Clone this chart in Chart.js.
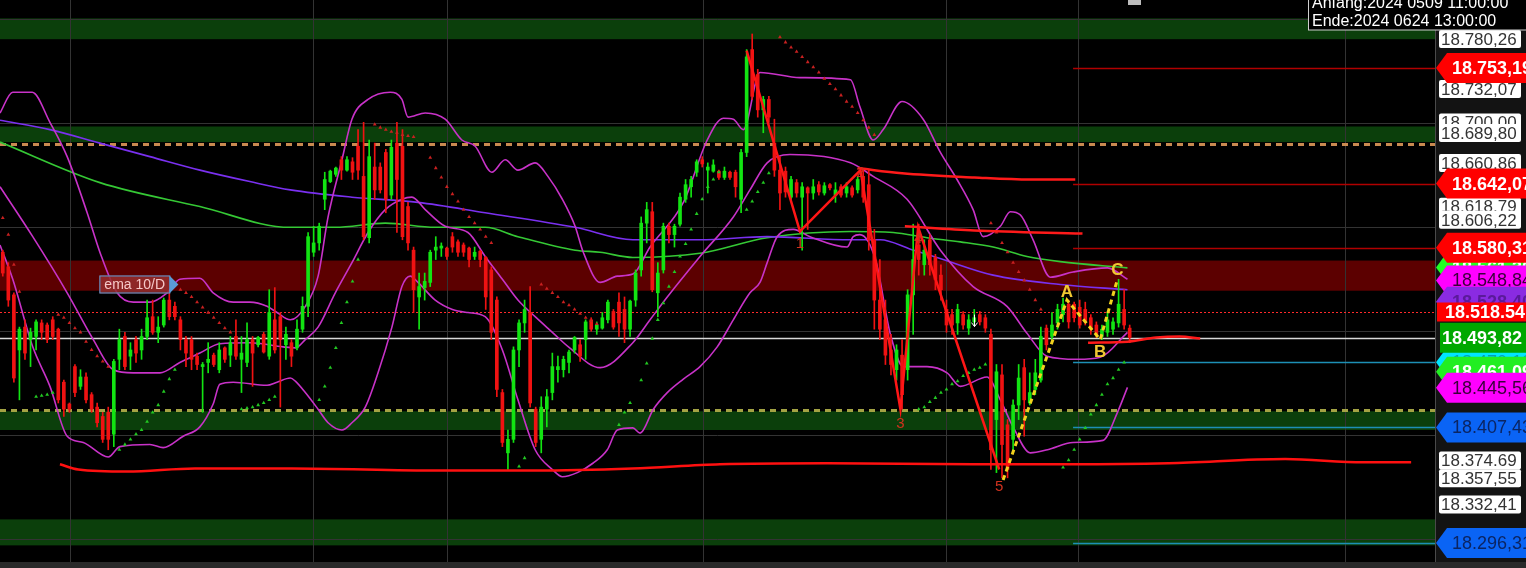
<!DOCTYPE html>
<html>
<head>
<meta charset="utf-8">
<script src="https://cdn.jsdelivr.net/npm/chart.js@4.4.1/dist/chart.umd.min.js"></script>
<style>
  html, body { margin: 0; padding: 0; background: #000; overflow: hidden; }
  canvas { display: block; }
</style>
</head>
<body>
<canvas id="chart" width="1526" height="568"></canvas>
<script>
// hourly candles: open, high, low, close
const ohlc = [
  [18576,18578,18553,18556],[18562,18566,18524,18530],[18535,18537,18451,18455],[18482,18504,18434,18502],
  [18504,18511,18473,18479],[18492,18503,18466,18499],[18495,18511,18482,18509],[18508,18511,18492,18499],
  [18506,18508,18489,18492],[18511,18514,18492,18495],[18502,18503,18431,18434],[18451,18453,18418,18425],
  [18430,18431,18422,18425],[18466,18468,18437,18441],[18447,18463,18444,18456],[18456,18460,18431,18434],
  [18439,18441,18422,18425],[18427,18431,18408,18412],[18418,18422,18393,18396],[18422,18427,18386,18396],
  [18401,18473,18389,18471],[18473,18502,18463,18492],[18495,18499,18463,18466],[18476,18489,18463,18482],
  [18492,18495,18470,18479],[18482,18502,18473,18495],[18495,18530,18492,18513],[18514,18530,18497,18499],
  [18499,18514,18489,18504],[18506,18532,18504,18530],[18530,18537,18511,18514],[18524,18528,18511,18514],
  [18511,18514,18482,18492],[18492,18495,18466,18479],[18492,18495,18463,18473],[18476,18479,18463,18468],
  [18466,18470,18422,18468],[18470,18489,18460,18473],[18477,18479,18466,18468],[18463,18489,18460,18482],
  [18484,18485,18470,18473],[18477,18495,18466,18489],[18495,18511,18473,18476],[18473,18495,18441,18479],
  [18470,18508,18466,18492],[18492,18495,18447,18479],[18487,18495,18485,18494],[18497,18499,18479,18480],
  [18476,18540,18473,18518],[18511,18542,18479,18482],[18514,18518,18427,18492],[18487,18504,18473,18497],
  [18489,18492,18466,18476],[18484,18511,18482,18502],[18502,18533,18499,18524],[18524,18595,18514,18591],
  [18576,18601,18572,18585],[18585,18604,18578,18601],[18627,18653,18617,18646],[18644,18655,18643,18654],
  [18651,18658,18649,18657],[18665,18668,18646,18655],[18655,18668,18654,18665],[18663,18667,18646,18653],
  [18678,18694,18646,18655],[18649,18701,18588,18591],[18590,18684,18585,18668],[18658,18681,18627,18636],
  [18658,18662,18633,18636],[18672,18675,18614,18627],[18631,18684,18627,18677],[18681,18701,18595,18646],
  [18678,18694,18588,18591],[18620,18624,18578,18585],[18578,18581,18518,18540],[18533,18556,18502,18543],
  [18542,18556,18530,18548],[18547,18578,18543,18576],[18578,18591,18569,18581],[18580,18585,18572,18582],
  [18580,18581,18569,18572],[18591,18595,18576,18581],[18586,18588,18572,18576],[18583,18585,18572,18576],
  [18580,18581,18562,18569],[18572,18581,18569,18576],[18577,18578,18562,18569],[18571,18572,18521,18533],
  [18559,18562,18492,18499],[18530,18533,18437,18444],[18441,18444,18389,18393],[18383,18405,18367,18396],
  [18396,18485,18393,18482],[18482,18511,18466,18508],[18508,18530,18499,18521],[18518,18543,18427,18431],
  [18425,18427,18389,18393],[18396,18437,18383,18427],[18425,18444,18408,18437],[18441,18479,18434,18466],
  [18463,18476,18451,18466],[18463,18476,18456,18473],[18470,18482,18460,18480],[18482,18495,18479,18494],
  [18487,18492,18471,18476],[18492,18511,18473,18509],[18511,18513,18500,18502],[18502,18509,18497,18506],
  [18503,18518,18502,18513],[18511,18530,18508,18528],[18519,18521,18502,18504],[18528,18537,18495,18508],
  [18521,18533,18489,18502],[18502,18530,18495,18529],[18530,18559,18524,18556],[18559,18610,18553,18604],
  [18604,18624,18585,18617],[18615,18624,18538,18540],[18537,18566,18514,18556],[18559,18604,18556,18601],
  [18601,18604,18585,18593],[18593,18603,18581,18601],[18603,18633,18601,18629],[18627,18646,18624,18641],
  [18639,18649,18629,18646],[18653,18665,18649,18663],[18665,18668,18658,18661],[18655,18662,18633,18658],
  [18654,18665,18653,18660],[18654,18655,18646,18648],[18648,18658,18646,18654],[18653,18654,18646,18648],
  [18653,18655,18629,18639],[18627,18675,18614,18672],[18672,18771,18668,18764],[18771,18786,18723,18726],
  [18747,18752,18706,18713],[18713,18726,18691,18723],[18723,18726,18701,18706],[18681,18704,18649,18655],
  [18655,18668,18617,18633],[18654,18658,18629,18634],[18629,18649,18627,18646],[18643,18646,18629,18633],
  [18629,18643,18578,18639],[18638,18639,18598,18633],[18633,18646,18627,18639],[18641,18644,18631,18634],
  [18633,18643,18631,18640],[18641,18642,18636,18638],[18631,18643,18624,18636],[18639,18641,18629,18631],
  [18633,18643,18629,18639],[18638,18640,18629,18631],[18636,18649,18633,18646],[18649,18655,18624,18629],
  [18641,18655,18578,18588],[18588,18598,18502,18530],[18530,18569,18492,18502],[18511,18530,18468,18477],
  [18482,18497,18458,18468],[18463,18487,18453,18482],[18477,18492,18425,18439],[18463,18540,18453,18535],
  [18535,18603,18497,18569],[18583,18603,18554,18569],[18564,18588,18554,18578],[18588,18593,18554,18564],
  [18571,18574,18540,18550],[18554,18564,18530,18540],[18521,18530,18499,18506],[18516,18521,18497,18506],
  [18508,18526,18497,18521],[18516,18519,18502,18506],[18503,18516,18497,18511],[18509,18521,18506,18513],
  [18516,18519,18506,18509],[18513,18516,18499,18503],[18497,18502,18367,18386],[18415,18468,18364,18461],
  [18458,18468,18359,18391],[18410,18415,18359,18367],[18396,18434,18386,18429],[18429,18468,18415,18455],
  [18465,18473,18399,18434],[18431,18460,18429,18441],[18444,18473,18439,18460],[18453,18504,18451,18495],
  [18503,18506,18482,18487],[18495,18518,18492,18506],[18508,18526,18502,18521],[18516,18532,18509,18526],
  [18526,18530,18503,18509],[18526,18528,18509,18513],[18523,18530,18503,18506],[18521,18528,18506,18509],
  [18513,18516,18497,18502],[18506,18509,18494,18497],[18495,18506,18492,18502],[18499,18518,18495,18511],
  [18502,18513,18497,18509],[18508,18550,18504,18526],[18521,18540,18502,18506],[18503,18506,18489,18494]
];

// session breaks (bar index) and price grid
const dayBreaks = [12.1, 55.9, 80, 126.2, 170, 193.7, 241.8];
const priceGrid = [18300, 18400, 18500, 18600, 18700, 18800];

// bollinger bands [bar, price]
const bbUpper = [[-0.5,18710],[1.8,18730],[5.3,18730],[8.5,18701],[11.6,18668],[15.2,18614],[17.5,18576],[20.6,18537],
  [23.5,18528],[26.5,18528],[29.6,18537],[31.9,18550],[35.5,18551],[37.9,18537],[41.5,18528],[44.5,18528],[47.6,18524],
  [49.4,18518],[51.8,18511],[54.5,18524],[56.8,18553],[58.6,18610],[61.1,18665],[62.9,18704],[65.8,18723],[69.8,18730],
  [71.9,18723],[73,18706],[76.1,18710],[79.7,18704],[82.7,18684],[85.1,18678],[88.1,18653],[90.5,18665],[92.8,18655],
  [95.9,18662],[98.2,18649],[100.8,18627],[103.1,18601],[104.5,18577],[107.6,18547],[110.7,18553],[113.5,18555],
  [116.6,18581],[122.6,18624],[126.9,18684],[129.8,18705],[131.6,18704],[133.4,18694],[136.4,18749],[143.6,18744],
  [152.7,18742],[154.4,18716],[156.8,18684],[158.6,18694],[162,18721],[165.8,18704],[168.9,18672],[171.9,18646],
  [174.8,18617],[176.6,18591],[179.7,18601],[181.5,18615],[183.3,18612],[185.6,18588],[188.7,18552],[192.8,18557],
  [199,18561],[202.6,18550]];
const bbMiddle = [[-0.5,18639],[5.4,18591],[11.6,18537],[16.3,18492],[19.9,18463],[23.5,18460],[28.3,18460],[31.9,18470],
  [35.5,18479],[39.1,18488],[44.5,18489],[50.5,18485],[52.7,18484],[54.5,18492],[56.8,18504],[59.9,18537],[62.9,18566],
  [65.8,18595],[68.9,18617],[71.9,18627],[73.7,18629],[76.1,18617],[79.7,18601],[83.8,18595],[86.9,18572],[90,18550],
  [92.8,18530],[95.9,18514],[99,18499],[101.9,18485],[107.6,18465],[113.5,18489],[116.6,18511],[119.7,18533],
  [125.6,18572],[131.6,18610],[134.6,18636],[137.7,18662],[141.8,18670],[152.7,18662],[156.8,18649],[162.9,18627],
  [168.9,18578],[174.8,18543],[180.9,18524],[184.5,18498],[188.1,18476],[193.6,18473],[197.7,18475],[202.6,18499]];
const bbLower = [[-0.5,18583],[1.8,18550],[5.4,18485],[8.5,18447],[11.6,18399],[14.5,18393],[19,18379],[21.1,18389],
  [26.5,18391],[28.9,18388],[32.5,18399],[35.5,18408],[37.9,18430],[39.1,18449],[41.5,18451],[47.6,18448],[49.4,18451],
  [51.8,18455],[52.7,18452],[54.5,18441],[56.8,18425],[58.6,18412],[61.1,18405],[62.9,18412],[65.3,18427],[67.6,18460],
  [70.1,18504],[71.9,18543],[73.4,18553],[74.8,18547],[77.9,18530],[81,18521],[83.8,18518],[86.9,18514],[90,18482],
  [92.8,18434],[95.9,18386],[99,18367],[100.8,18360],[103.5,18364],[106.3,18373],[108.9,18386],[110.7,18405],
  [113.5,18407],[114.8,18402],[117.2,18425],[119.7,18441],[122.6,18454],[125.6,18466],[128.7,18485],[131.6,18511],
  [134.6,18537],[136.4,18547],[137.7,18566],[139.5,18591],[142.4,18598],[145.4,18591],[152.1,18581],[153.2,18591],
  [154.4,18593],[157.2,18569],[159.9,18497],[162.2,18466],[166.5,18466],[170.1,18460],[172.5,18447],[177.3,18456],
  [179.7,18434],[182,18408],[185.1,18383],[188.2,18386],[192.8,18393],[198.2,18395],[200.8,18422],[202.6,18446]];

// moving averages [bar, price]
const emaSlow = [[-0.5,18703],[8.5,18694],[17.5,18681],[26.5,18668],[35.5,18655],[44.5,18644],[51.8,18636],[62.9,18629],
  [74.8,18624],[86.9,18614],[103.1,18600],[113.5,18588],[125.6,18588],[137.7,18591],[152.7,18588],[158.1,18588],
  [163.5,18579],[169.4,18569],[178.4,18554],[190.5,18545],[202.6,18540]];
const smaSlow = [[-0.5,18682],[17.5,18643],[35.5,18620],[51.8,18600],[59.9,18600],[68.9,18604],[77.9,18600],[86.9,18600],
  [92.8,18591],[103.1,18578],[107.6,18576],[113.5,18571],[125.6,18575],[137.7,18590],[152.7,18596],[160.4,18595],
  [166.5,18590],[172.5,18586],[178.4,18581],[184.5,18572],[190.5,18567],[202.6,18561]];
const baseLine = [[10.3,18372],[13.6,18367],[22.4,18365],[34.6,18368],[52.1,18368],[78.4,18366],[95.9,18366],
  [113.5,18368],[129.2,18372],[148.5,18373],[174.8,18372],[192.5,18372],[210,18373],[231,18377],[245.1,18374],[253.7,18374]];

// parabolic SAR [bar, price]
const sarBelow = [[6,18437],[7,18438],[8,18439],[9,18441],[21,18386],[22,18391],[23,18396],[24,18401],[25,18405],
  [26,18413],[27,18422],[28,18429],[29,18442],[30,18454],[31,18463],[43,18425],[44,18426],[45,18427],[46,18429],
  [47,18431],[48,18434],[49,18437],[57,18434],[58,18447],[59,18465],[60,18484],[61,18508],[62,18528],[63,18548],
  [64,18569],[93,18370],[94,18378],[111,18410],[112,18422],[113,18431],[115,18453],[116,18469],[117,18493],[118,18511],
  [119,18527],[120,18543],[121,18557],[122,18572],[123,18584],[124,18598],[125,18613],[126,18627],[127,18639],
  [128,18646],[129,18653],[134,18617],[135,18625],[136,18634],[137,18643],[138,18652],[165,18425],[166,18427],
  [167,18432],[168,18436],[169,18441],[170,18444],[171,18449],[172,18452],[173,18457],[174,18460],[175,18463],
  [176,18465],[177,18468],[191,18369],[192,18376],[193,18386],[194,18396],[195,18407],[196,18420],[197,18429],
  [198,18439],[199,18449],[200,18455],[201,18463],[202,18470]];
const sarAbove = [[0,18609],[1,18593],[2,18564],[3,18538],[10,18516],[11,18513],[12,18508],[13,18503],[14,18499],
  [15,18490],[16,18482],[17,18476],[18,18471],[19,18466],[32,18540],[33,18537],[34,18533],[35,18528],[36,18523],
  [37,18518],[38,18513],[39,18508],[40,18503],[41,18499],[67,18699],[68,18696],[69,18694],[70,18692],[71,18691],
  [72,18689],[73,18688],[74,18687],[77,18667],[78,18657],[79,18648],[80,18639],[81,18632],[82,18625],[83,18617],
  [84,18610],[85,18604],[86,18598],[87,18591],[88,18585],[97,18545],[98,18541],[99,18537],[100,18533],[101,18528],
  [102,18525],[103,18521],[104,18517],[105,18513],[106,18510],[107,18507],[140,18783],[141,18778],[142,18773],
  [143,18769],[144,18764],[145,18759],[146,18754],[147,18749],[148,18743],[149,18738],[150,18733],[151,18727],
  [152,18721],[153,18716],[154,18710],[155,18703],[156,18696],[157,18689],[178,18604],[179,18595],[180,18585],
  [181,18576],[182,18566],[183,18557],[184,18549],[185,18540],[186,18530],[187,18521]];

// elliott count 0-1-2-3-4-5 and correction A-B-C
const waveX = [134, 143.6, 154.5, 161.7, 164.9, 179.5];
const waveY = [18770, 18596, 18655, 18425, 18600, 18367];
const waveNames = ['', '1', '2', '3', '4', '5'];
const abcX = [180.2, 191.7, 197.7, 200.8];
const abcY = [18357, 18530, 18492, 18550];
const abcNames = ['', 'A', 'B', 'C'];
const wave2Line = [[154,18657],[162,18652],[175,18648],[185,18646],[193.2,18646]];
const wave4Line = [[162.5,18601],[175,18597],[194.5,18594]];
const bLine = [[195.5,18489],[202.6,18490],[207.8,18494],[212,18495],[215.7,18493]];

// zones and levels
const greenZones = [[18781, 18801], [18682, 18697], [18405, 18423], [18294, 18319]];
const redZones = [[18539, 18568]];
const orangeDash = 18680;
const oliveDash = 18424;
const prevClose = 18518.54;
const lastPrice = 18493.82;
const rightRedLevels = [18753.19, 18642.07, 18580.31];
const rightTealLevels = [18470.1, 18407.43, 18296.31];
const rightLevelStart = 192.8;

// price axis boxes and tags (drawn in this order)
const boxLabels = ['18.700,00', '18.780,26', '18.732,07', '18.689,80', '18.660,86', '18.618,79', '18.606,22',
  '18.374.69', '18.357,55', '18.332,41'];
const boxPrices = [18700, 18780.26, 18732.07, 18689.80, 18660.86, 18618.79, 18606.22, 18374.69, 18357.55, 18332.41];
const tagLabels = ['18.561,30', '18.753,19', '18.642,07', '18.580,31', '18.548,84', '18.528,40', '18.518.54',
  '18.470,10', '18.461,09', '18.493,82', '18.445,56', '18.407,43', '18.296,31'];
const tagPrices = [18561.3, 18753.19, 18642.07, 18580.31, 18548.84, 18528.4, 18518.54,
  18470.1, 18461.09, 18493.82, 18445.56, 18407.43, 18296.31];
const tagFills = ['#22ff22', '#ff0000', '#ff0000', '#ff0000', '#ff00ff', '#8a2be2', '#ff0000',
  '#00e5ff', '#22ee22', '#00a800', '#ff00ff', '#0a64f5', '#0a64f5'];
const tagInk = ['#fff', '#fff', '#fff', '#fff', '#3a003a', '#5a1a9a', '#fff',
  '#00a0b8', '#fff', '#fff', '#3a003a', '#0b2563', '#0b2563'];
const tagShape = ['arrow', 'arrow', 'arrow', 'arrow', 'arrow', 'arrow', 'rect',
  'arrow', 'arrow', 'wide', 'arrow', 'arrow', 'arrow'];
const tagBold = [true, true, true, true, false, true, true, false, true, true, false, false, false];

const emaTagAt = [17.4, 18545];
const infoLines = ['Anfang:2024 0509 11:00:00', 'Ende:2024 0624 13:00:00'];

const FONT = '"Liberation Sans", Arial, sans-serif';
const toXY = arr => arr.map(([x, y]) => ({ x, y }));
const zip = (xs, ys) => xs.map((x, i) => ({ x, y: ys[i] }));

const candleColors = ohlc.map(r => r[3] >= r[0] ? '#12e412' : '#f01212');
const bodies = ohlc.map((r, i) => ({ x: i, y: [r[0], r[3]] }));
const wicks = ohlc.map((r, i) => ({ x: i, y: [r[2], r[1]] }));

function line(data, color, width, order, extra) {
  return Object.assign({
    type: 'line', data: data, borderColor: color, borderWidth: width,
    pointRadius: 0, cubicInterpolationMode: 'monotone', fill: false, order
  }, extra || {});
}

const levelsPlugin = {
  id: 'levels',
  beforeDraw(chart) {
    const { ctx, chartArea: a, scales: { x, y } } = chart;
    ctx.save();
    ctx.fillStyle = '#000';
    ctx.fillRect(0, 0, chart.width, chart.height);
    ctx.fillStyle = '#131313';
    ctx.fillRect(a.right, 0, chart.width - a.right, chart.height);
    ctx.fillStyle = '#2a2a2a';
    ctx.fillRect(0, a.bottom, chart.width, chart.height - a.bottom);
    const band = (lo, hi, color) => {
      const top = y.getPixelForValue(hi);
      const bot = y.getPixelForValue(lo);
      ctx.fillStyle = color;
      ctx.fillRect(a.left, top, a.right - a.left, bot - top);
    };
    greenZones.forEach(z => band(z[0], z[1], '#0b3f0b'));
    redZones.forEach(z => band(z[0], z[1], '#5c0000'));

    // grid: session breaks and round prices
    ctx.strokeStyle = '#333';
    ctx.lineWidth = 1;
    ctx.beginPath();
    dayBreaks.forEach(v => {
      const px = Math.round(x.getPixelForValue(v)) + 0.5;
      ctx.moveTo(px, a.top); ctx.lineTo(px, a.bottom);
    });
    priceGrid.forEach(v => {
      const py = Math.round(y.getPixelForValue(v)) + 0.5;
      ctx.moveTo(a.left, py); ctx.lineTo(a.right, py);
    });
    ctx.stroke();
    ctx.strokeStyle = '#4a4a4a';
    ctx.beginPath();
    ctx.moveTo(a.right + 0.5, 0); ctx.lineTo(a.right + 0.5, a.bottom);
    ctx.stroke();
    ctx.restore();
  },
  beforeDatasetsDraw(chart) {
    const { ctx, chartArea: a, scales: { x, y } } = chart;
    const hline = (price, color, width, dash, from) => {
      const py = Math.round(y.getPixelForValue(price)) + 0.5;
      const x0 = from === undefined ? a.left : x.getPixelForValue(from);
      ctx.save();
      ctx.strokeStyle = color;
      ctx.lineWidth = width;
      ctx.setLineDash(dash);
      ctx.beginPath();
      ctx.moveTo(x0, py);
      ctx.lineTo(a.right, py);
      ctx.stroke();
      ctx.restore();
    };
    hline(orangeDash, '#c98a50', 3, [6, 5]);
    hline(oliveDash, '#a3a343', 3, [6, 5]);
    hline(prevClose, '#ff2a2a', 1, [2, 2]);
    hline(lastPrice, '#d8d8d8', 1.5, []);
    rightRedLevels.forEach(p => hline(p, '#b00000', 1.5, [], rightLevelStart));
    rightTealLevels.forEach(p => hline(p, '#1d8fb5', 1.5, [], rightLevelStart));
  },
  afterDraw(chart) {
    const { ctx, chartArea: a, scales: { x, y } } = chart;
    const W = chart.width;
    ctx.save();
    ctx.textBaseline = 'middle';

    // wave labels
    ctx.font = '15px ' + FONT;
    ctx.fillStyle = '#d0321e';
    ctx.textAlign = 'center';
    const waveOff = [0, 12, 3, 15, 12, 17];
    waveX.forEach((v, i) => {
      if (!waveNames[i]) return;
      ctx.fillText(waveNames[i], x.getPixelForValue(v), y.getPixelForValue(waveY[i]) + waveOff[i]);
    });
    ctx.font = 'bold 17px ' + FONT;
    ctx.fillStyle = '#f0c832';
    const abcOff = [0, -8, 13, -9];
    abcX.forEach((v, i) => {
      if (!abcNames[i]) return;
      ctx.fillText(abcNames[i], x.getPixelForValue(v), y.getPixelForValue(abcY[i]) + abcOff[i]);
    });

    // little down arrow marker
    const ax = Math.round(x.getPixelForValue(175)) + 0.5;
    const ay = y.getPixelForValue(18516);
    ctx.strokeStyle = '#fff';
    ctx.lineWidth = 1;
    ctx.beginPath();
    ctx.moveTo(ax, ay); ctx.lineTo(ax, ay + 12);
    ctx.moveTo(ax - 3, ay + 8); ctx.lineTo(ax, ay + 12); ctx.lineTo(ax + 3, ay + 8);
    ctx.stroke();

    // ema label
    const ex = x.getPixelForValue(emaTagAt[0]);
    const ey = y.getPixelForValue(emaTagAt[1]);
    ctx.fillStyle = 'rgba(150,45,45,0.85)';
    ctx.fillRect(ex, ey - 9, 70, 18);
    ctx.strokeStyle = '#5a9bd5';
    ctx.strokeRect(ex + 0.5, ey - 8.5, 70, 17);
    ctx.fillStyle = '#5a9bd5';
    ctx.beginPath();
    ctx.moveTo(ex + 70, ey - 9); ctx.lineTo(ex + 79, ey); ctx.lineTo(ex + 70, ey + 9);
    ctx.fill();
    ctx.textAlign = 'left';
    ctx.font = '14px ' + FONT;
    ctx.fillStyle = '#f6c8c8';
    ctx.fillText('ema 10/D', ex + 5, ey + 1);

    // price axis: white boxes
    ctx.font = '17px ' + FONT;
    boxPrices.forEach((p, i) => {
      const py = y.getPixelForValue(p) - 1;
      ctx.fillStyle = '#fff';
      ctx.beginPath();
      ctx.roundRect(a.right + 4, py - 9, 82, 18, 2);
      ctx.fill();
      ctx.fillStyle = '#333';
      ctx.fillText(boxLabels[i], a.right + 6, py + 1);
    });

    // price axis: tags
    tagPrices.forEach((p, i) => {
      const py = y.getPixelForValue(p);
      const left = a.right + 1;
      ctx.fillStyle = tagFills[i];
      ctx.beginPath();
      let tx = left + 16;
      if (tagShape[i] === 'arrow') {
        ctx.moveTo(left, py);
        ctx.lineTo(left + 11, py - 15);
        ctx.lineTo(W, py - 15);
        ctx.lineTo(W, py + 15);
        ctx.lineTo(left + 11, py + 15);
        ctx.closePath();
      } else if (tagShape[i] === 'rect') {
        ctx.rect(left + 1, py - 9.5, W - left, 19);
        tx = left + 9;
      } else {
        ctx.rect(left + 4, py - 15, W - left, 30);
        tx = left + 6;
      }
      ctx.fill();
      ctx.fillStyle = tagInk[i];
      ctx.font = (tagBold[i] ? 'bold ' : '') + '18px ' + FONT;
      ctx.fillText(tagLabels[i], tx, py + 1);
    });

    // period info box
    ctx.fillStyle = '#000';
    ctx.fillRect(1308, -2, W - 1308, 32);
    ctx.strokeStyle = '#d0d0d0';
    ctx.strokeRect(1308.5, -2, W - 1308, 32);
    ctx.fillStyle = '#fff';
    ctx.font = '16px ' + FONT;
    ctx.textBaseline = 'alphabetic';
    ctx.fillText(infoLines[0], 1312, 8);
    ctx.fillText(infoLines[1], 1312, 26);
    ctx.fillStyle = '#bdbdbd';
    ctx.fillRect(1128, -2, 13, 7);
    ctx.restore();
  }
};

new Chart(document.getElementById('chart'), {
  type: 'line',
  data: {
    datasets: [
      line(zip(waveX, waveY), '#ff1616', 2.5, 1, { cubicInterpolationMode: 'default', tension: 0 }),
      line(zip(abcX, abcY), '#f2d21e', 3, 1, { borderDash: [5, 4], cubicInterpolationMode: 'default', tension: 0 }),
      line(toXY(wave2Line), '#ff1a1a', 2.5, 2),
      line(toXY(wave4Line), '#ff1a1a', 2.5, 2),
      line(toXY(bLine), '#ff1a1a', 2.5, 2),
      line(toXY(baseLine), '#ff1010', 2.5, 2),
      { type: 'scatter', data: toXY(sarBelow), pointStyle: 'triangle', pointRadius: 2.2,
        backgroundColor: '#22c822', borderWidth: 0, order: 3 },
      { type: 'scatter', data: toXY(sarAbove), pointStyle: 'triangle', pointRadius: 2.2,
        backgroundColor: '#c82020', borderWidth: 0, order: 3 },
      { type: 'bar', data: bodies, backgroundColor: candleColors, barThickness: 3, minBarLength: 1,
        grouped: false, borderWidth: 0, order: 4 },
      { type: 'bar', data: wicks, backgroundColor: candleColors, barThickness: 1,
        grouped: false, borderWidth: 0, order: 5 },
      line(toXY(bbUpper), '#c832c8', 1.6, 6),
      line(toXY(bbMiddle), '#c832c8', 1.6, 6),
      line(toXY(bbLower), '#c832c8', 1.6, 6),
      line(toXY(emaSlow), '#7a30f0', 1.6, 7),
      line(toXY(smaSlow), '#35c835', 1.6, 7)
    ]
  },
  options: {
    responsive: false,
    devicePixelRatio: 1,
    animation: false,
    events: [],
    layout: { padding: 0, autoPadding: false },
    plugins: { legend: { display: false }, tooltip: { enabled: false } },
    scales: {
      x: {
        type: 'linear', min: -0.5, max: 258, offset: false,
        ticks: { display: false },
        grid: { display: false },
        border: { display: false },
        afterFit: s => { s.height = 6; s.paddingLeft = 0; s.paddingRight = 0; }
      },
      y: {
        position: 'right', min: 18278, max: 18818.7,
        ticks: { display: false },
        grid: { display: false },
        border: { display: false },
        afterFit: s => { s.width = 91; s.paddingTop = 0; s.paddingBottom = 0; }
      }
    }
  },
  plugins: [levelsPlugin]
});
</script>
</body>
</html>
